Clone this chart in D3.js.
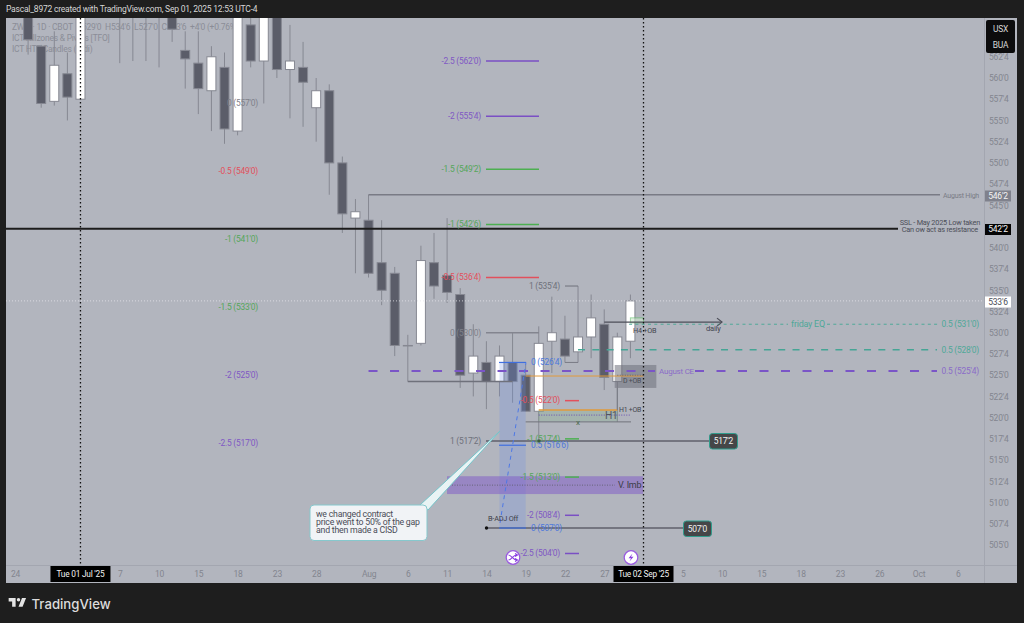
<!DOCTYPE html>
<html><head><meta charset="utf-8">
<script src="https://cdnjs.cloudflare.com/ajax/libs/d3/7.8.5/d3.min.js"></script>
<style>html,body{margin:0;padding:0;background:#1e1e1e;overflow:hidden}svg{display:block}text{font-family:Roboto,"Noto Sans",sans-serif}</style>
</head><body><svg id="c" width="1024" height="623"></svg>
<script>
// ---- candle data (bar index 1 = 25 Jun 2025)
const firstBar = 1;
const open  = [569,563.75,557.25,560.5,557.5,572,574,572,570,568.5,570,569,563.25,561.75,558.5,561.25,553.75,566.25,562,568,561,561.25,556.5,558.5,550,543.5,543.25,538.25,537,528.5,528.75,538.25,536.75,534.5,525.25,526.5,524.25,526.5,525,520.75,529,529.25,527.75,529.5,531,524.25,529];
const high  = [571,563.9,565.5,563,572,575,576,576,574,572,572,572,565.5,565.5,563.75,563,572,570,571,571,566.25,564.25,560,559.25,550.75,545.75,546.25,543.25,537.75,529.75,540.25,541.75,543.5,535.25,531,529,528.5,530,526.25,530.75,534.25,532,535.5,534.5,532.75,530,534.5];
const low   = [562.75,556.5,556.75,555,557.5,568,569,561.75,562,562,561.25,564.25,558.75,555.75,553.75,552.25,553.25,561.25,557,560,555.25,554.25,552.5,546.25,541.75,537,536.5,533.25,527.25,524.25,528.5,534,533.5,523.5,522.5,521,522.5,521.75,520.75,517.25,525.25,526.5,526.5,527,523.25,519.5,527];
const close = [564.5,557,561.5,557.75,570,574,572,570,568.5,570,568,565.75,562.25,558.75,562.5,554,570,562,568,561,562,559.5,558.5,550,544,544.25,537,535,528.5,528.5,538.5,535.5,534.75,525,527.25,524.25,527.25,524.25,520.75,528.75,530,527.25,529.5,531.75,524.75,529.5,533.75];
// ---- axis labels
const priceTicks = [562.5,560,557.5,555,552.5,550,547.5,545,540,537.5,535,532.5,530,527.5,525,522.5,520,517.5,515,512.5,510,507.5,505];
const timeTickBars = [0,8,11,14,17,20,23,27,30,33,36,39,42,45,51,54,57,60,63,66,69,72];
const timeTickLabels = ["24","7","10","15","18","23","28","Aug","6","11","14","19","22","27","5","10","15","18","23","26","Oct","6"];
const crosshairBars = [5,48];
const crosshairLabels = ["Tue 01 Jul '25","Tue 02 Sep '25"];
// ---- fib level groups
const fibLeftLabels = ["0 (557'0)","-0.5 (549'0)","-1 (541'0)","-1.5 (533'0)","-2 (525'0)","-2.5 (517'0)"];
const fibLeftPrices = [557,549,541,533,525,517];
const fibLeftKinds  = ["g","r","n","n","p","p"];
const fibMidLabels = ["-2.5 (562'0)","-2 (555'4)","-1.5 (549'2)","-1 (542'6)","-0.5 (536'4)","0 (530'0)"];
const fibMidPrices = [562,555.5,549.25,542.75,536.5,530];
const fibMidKinds  = ["p","p","n","n","r","g"];
const fibLowLabels = ["-0.5 (522'0)","-1 (517'4)","-1.5 (513'0)","-2 (508'4)","-2.5 (504'0)"];
const fibLowPrices = [522,517.5,513,508.5,504];
const fibLowKinds  = ["r","n","n","p","p"];
const blueLabels = ["0 (526'4)","0.5 (516'6)","0 (507'0)"];
const bluePrices = [526.5,516.75,507];
const callout = ["we changed contract","price went to 50% of the gap","and then made a CISD"];

const x = d3.scaleLinear().domain([0,48]).range([15,643.5]);
const y = d3.scaleLinear().domain([505,560]).range([545,78]);
const svg = d3.select("#c");
const kinds = {r:"#e2505c",n:"#4caf50",p:"#7a4fc4",g:"#83858f"};
const txtKinds = {r:"#e2505c",n:"#55a65a",p:"#8058c4",g:"#7f818b"};
const DARK="#5b5d69", EDGE="#868892";

svg.append("rect").attr("width",1024).attr("height",623).attr("fill","#1e1e1e");
svg.append("rect").attr("x",6).attr("y",18).attr("width",1011).attr("height",565).attr("fill","#b2b5be");
svg.append("text").attr("x",6).attr("y",12).attr("fill","#d6d6d6").attr("font-size",7.9).text("Pascal_8972 created with TradingView.com, Sep 01, 2025 12:53 UTC-4");

svg.append("defs").append("clipPath").attr("id","plot").append("rect").attr("x",6).attr("y",18).attr("width",978).attr("height",547);
const plot = svg.append("g").attr("clip-path","url(#plot)");

// legend (beneath the candles)
[["ZW1! · 1D · CBOT  O529'0  H534'6  L527'0  C533'6  +4'0 (+0.76%)",27],["ICT Killzones & Pivots [TFO]",38],["ICT HTF Candles (fadi)",49]].forEach(d=>{
  plot.append("text").attr("x",12).attr("y",d[1]+3).attr("font-size",7.85).style("white-space","pre").attr("fill","#8b8d97").text(d[0]);
});

// candles
const bars = d3.range(open.length).map(i=>({i:i+firstBar,o:open[i],h:high[i],l:low[i],c:close[i]}));
plot.selectAll("line.w").data(bars).join("line").attr("class","w")
  .attr("x1",d=>x(d.i)).attr("x2",d=>x(d.i)).attr("y1",d=>y(d.h)).attr("y2",d=>y(d.l))
  .attr("stroke",EDGE).attr("stroke-width",1);
plot.selectAll("rect.b").data(bars).join("rect").attr("class","b")
  .attr("x",d=>x(d.i)-4.5).attr("width",9)
  .attr("y",d=>y(Math.max(d.o,d.c))).attr("height",d=>Math.max(0.5,Math.abs(y(d.o)-y(d.c))))
  .attr("fill",d=>d.c>d.o?"#ffffff":DARK).attr("stroke",EDGE).attr("stroke-width",1);

// helpers
const hline=(g,x0,x1,p,col,w,dash)=>g.append("line").attr("x1",x0).attr("x2",x1).attr("y1",y(p)).attr("y2",y(p)).attr("stroke",col).attr("stroke-width",w).attr("stroke-dasharray",dash||null);
const label=(g,xx,p,t,col,size,anchor,extra)=>g.append("text").attr("x",xx).attr("y",y(p)+(extra||0)+2.8).attr("fill",col).attr("font-size",size).attr("text-anchor",anchor||"end").text(t);

// zones
const a = plot.append("g");
a.append("rect").attr("x",x(37)).attr("width",x(39)-x(37)).attr("y",y(526.5)).attr("height",y(507)-y(526.5)).attr("fill","#6a8ee6").attr("opacity",.25);
a.append("rect").attr("x",447).attr("width",196).attr("y",y(513.1)).attr("height",y(511)-y(513.1)).attr("fill","#7d58c8").attr("opacity",.5);
a.append("rect").attr("x",x(45.8)).attr("width",x(48.98)-x(45.8)).attr("y",y(526.2)).attr("height",y(523.5)-y(526.2)).attr("fill","#6d6f7a").attr("opacity",.55);
a.append("rect").attr("x",x(40)).attr("width",x(46)-x(40)).attr("y",y(520.9)).attr("height",y(519.6)-y(520.9)).attr("fill","#66b36a").attr("opacity",.18).attr("stroke","#5fae64").attr("stroke-width",.7);
a.append("rect").attr("x",x(47)).attr("width",x(48)-x(47)).attr("y",y(531.75)).attr("height",5).attr("fill","#cfe8cf").attr("opacity",.6).attr("stroke","#5fbf68").attr("stroke-width",1);

// long horizontal levels
hline(a,x(27),940,546.25,"#797b85",1.5);
hline(a,6,898,542.25,"#1c1c1c",2);
hline(a,6,984,533.75,"#e4e5ea",.8,"1,2");
hline(a,x(46.9),788,531,"#4fa898",1,"3,3.3");
hline(a,827,940,531,"#4fa898",1,"3,3.3");
hline(a,x(43),937,528,"#45a595",1.5,"7,7.3");
hline(a,x(27),655,525.5,"#7a55c7",2,"9,12.5");
hline(a,695,937,525.5,"#7a55c7",2,"9,12.5");
hline(a,486,709,517.25,"#5f616b",1.5);
hline(a,486,683,507,"#5f616b",1.5);
hline(a,x(30),x(38),524.25,"#6f717b",1.5);
hline(a,x(39),x(48),524.9,"#e39a3a",1);
hline(a,x(46),x(48),525,"#5a5c66",.8,"1,1.5");
hline(a,x(40),x(46),520.9,"#e39a3a",1.5);
hline(a,x(39),631,519.5,"#70727c",1);
hline(a,x(40),630,520.3,"#6a4fb0",1,"1,1.5");
hline(a,447,615,512.05,"#5a5c66",.8,"1,1.5");
a.append("line").attr("x1",x(46)).attr("x2",x(46)).attr("y1",y(523.5)).attr("y2",y(520.9)).attr("stroke","#797b85");
a.append("line").attr("x1",x(45)).attr("x2",722).attr("y1",y(531.25)).attr("y2",y(531.25)).attr("stroke","#4d4f59").attr("stroke-width",1.2);
a.append("path").attr("d",`M717 ${y(531.25)-4}L722 ${y(531.25)}L717 ${y(531.25)+4}`).attr("fill","none").attr("stroke","#4d4f59").attr("stroke-width",1.2);
hline(a,x(42),x(43),526.5,"#797b85",1);
hline(a,565,x(43),535.5,"#6f717b",1);

// fib columns
fibLeftLabels.forEach((t,i)=>label(a,258,fibLeftPrices[i],t,txtKinds[fibLeftKinds[i]],7.8));
fibMidLabels.forEach((t,i)=>{label(a,481,fibMidPrices[i],t,txtKinds[fibMidKinds[i]],7.8);hline(a,486,539,fibMidPrices[i],kinds[fibMidKinds[i]],1.6);});
fibLowLabels.forEach((t,i)=>{label(a,560,fibLowPrices[i],t,txtKinds[fibLowKinds[i]],7.8);hline(a,565,579,fibLowPrices[i],kinds[fibLowKinds[i]],1.5);});
bluePrices.forEach((p,i)=>{label(a,531,p,blueLabels[i],"#4d78dc",7.8,"start");hline(a,499,526,p,"#3f6fe0",1.2);});
label(a,560,535.5,"1 (535'4)","#6f717b",7.8);
label(a,481,517.25,"1 (517'2)","#6f717b",7.8);

// blue dashed
a.append("line").attr("x1",500).attr("y1",y(507.6)).attr("x2",526).attr("y2",y(526.5)).attr("stroke","#4d78e6").attr("stroke-width",1).attr("stroke-dasharray","4,4");

// small labels
label(a,488,508,"B-ADJ Off","#3c3e48",6.8,"start",-1);
a.append("circle").attr("cx",486.5).attr("cy",y(507)).attr("r",1.7).attr("fill","#111");
a.append("rect").attr("x",537.5).attr("y",y(517.25)-1.5).attr("width",3).attr("height",3).attr("fill","#3d5e3d");
label(a,618,512.05,"V. Imb","#3a3c46",8.3,"start");
label(a,623,524.4,"D +OB","#4a4c56",6.4,"start");
label(a,633,530.2,"H4 +OB","#44464f",6.7,"start",-.5);
label(a,619,521,"H1 +OB","#44464f",6.4,"start");
label(a,605,520.2,"H1","#53555f",9.5,"start",.5);
label(a,576,519.4,"x","#4a6a4a",7.5,"start",-.5);
label(a,706,530.5,"daily","#44464f",7,"start",-.5);
label(a,791,531,"friday EQ","#4fa898",8.3,"start");
label(a,979,531,"0.5 (531'0)","#4fa898",7.8);
label(a,979,528,"0.5 (528'0)","#4fa898",7.8);
label(a,979,525.5,"0.5 (525'4)","#8a6cc8",7.8);
label(a,659,525.5,"August CE","#8a6cc8",7.4,"start");
label(a,979,546.25,"August High","#7a7c86",6.5);
label(a,980,542.25,"SSL - May 2025 Low taken","#4c4e58",6.8,"end",-6.6);
label(a,978,542.25,"Can ow act as resistance","#4c4e58",6.8,"end",0.3);

// crosshair-like verticals
crosshairBars.forEach(b=>a.append("line").attr("x1",x(b)).attr("x2",x(b)).attr("y1",18).attr("y2",565).attr("stroke","#111").attr("stroke-width",1.3).attr("stroke-dasharray","1.5,2.5"));

// callout
const co = plot.append("g");
co.append("path").attr("d","M420 505L500 431L428 510Z").attr("fill","#e8f3f4").attr("stroke","#74c3c9").attr("stroke-width",1);
co.append("rect").attr("x",310).attr("y",505).attr("width",117).attr("height",35.5).attr("rx",4).attr("fill","#f1f3f6").attr("stroke","#86c8cd").attr("stroke-width",1);
co.selectAll("text").data(callout).join("text").attr("x",316).attr("y",(d,i)=>517+i*8).attr("font-size",8.1).attr("fill","#4a4c56").text(d=>d);

// icons
[513,631].forEach((cx,k)=>{
  const g=plot.append("g").attr("transform",`translate(${cx},557.5)`);
  g.append("circle").attr("r",6.8).attr("fill","#fff").attr("stroke","#9a5ae0").attr("stroke-width",1.3);
  if(k===0) g.append("path").attr("d","M-4.5 -2.5C-1.5 -2.5 0 2.5 3.5 2.5M-4.5 2.5C-1.5 2.5 0 -2.5 3.5 -2.5M2 -4L4.5 -2.5L2 -1M2 1L4.5 2.5L2 4").attr("fill","none").attr("stroke","#8a3fe0").attr("stroke-width",1.1);
  else g.append("path").attr("d","M1.5 -4L-2.5 .8H0L-1.5 4L2.5 -.8H0Z").attr("fill","#8a3fe0");
});

// badges
const badge=(bx,by,w,h,t,fill,stroke,col,size,r)=>{
  svg.append("rect").attr("x",bx).attr("y",by).attr("width",w).attr("height",h).attr("rx",r||0).attr("fill",fill).attr("stroke",stroke||"none");
  svg.append("text").attr("x",bx+w/2).attr("y",by+h/2+2.9).attr("text-anchor","middle").attr("font-size",size||9).attr("fill",col).text(t);
};
badge(709.5,433.5,28,15.5,"517'2","#454648","#2f9c8c","#f2f2f2",7.8,3);
badge(683.5,521,28,15.5,"507'0","#454648","#2f9c8c","#f2f2f2",7.8,3);

// axes
svg.append("line").attr("x1",984.5).attr("x2",984.5).attr("y1",18).attr("y2",583).attr("stroke","#a3a6b0");
svg.append("line").attr("x1",6).attr("x2",1017).attr("y1",565.5).attr("y2",565.5).attr("stroke","#a3a6b0");
const fmt = v=>{const w=Math.floor(v);return w+"'"+Math.round((v-w)*8);};
const yAxis = d3.axisRight(y).tickValues(priceTicks).tickFormat(fmt).tickSize(0).tickPadding(4);
svg.append("g").attr("transform","translate(985,0)").call(yAxis).call(g=>g.select(".domain").remove())
  .selectAll("text").attr("fill","#83858f").attr("font-size",7.9).style("font-family","Roboto");
const xAxis = d3.axisBottom(x).tickValues(timeTickBars).tickFormat((d,i)=>timeTickLabels[i]).tickSize(0).tickPadding(5);
svg.append("g").attr("transform","translate(0,566)").call(xAxis).call(g=>g.select(".domain").remove())
  .selectAll("text").attr("fill","#83858f").attr("font-size",7.9).style("font-family","Roboto");

badge(985,190.5,26,11,"546'2","#7f818c",null,"#f4f4f4",7.9);
badge(985,224,26,11,"542'2","#050505",null,"#f4f4f4",7.9);
badge(985,296.5,26,11,"533'6","#ffffff",null,"#4a4c56",7.9);
crosshairBars.forEach((b,i)=>badge(x(b)-30,566,60,16,crosshairLabels[i],"#000",null,"#f2f2f2",7.7));

// symbol badge
svg.append("rect").attr("x",986).attr("y",20).attr("width",29).attr("height",33).attr("rx",2).attr("fill","#0c0c0d");
svg.append("text").attr("x",1000.5).attr("y",31.5).attr("text-anchor","middle").attr("font-size",7.8).attr("fill","#d8d8d8").text("USX");
svg.append("text").attr("x",1000.5).attr("y",48).attr("text-anchor","middle").attr("font-size",7.8).attr("fill","#d8d8d8").text("BUA");

// slightly taller, tighter glyphs, as in the reference's downscaled text
svg.selectAll("text").each(function(){
  const t=d3.select(this), s=+t.attr("font-size");
  if(s) t.attr("font-size",s*1.08).style("letter-spacing","-0.22px");
});

// footer logo
svg.append("path").attr("transform","translate(7.5,594.5) scale(.58)").attr("fill","#e4e4e4").attr("d","M14 6H2v6h6v9h6V6zm12 15h-7l6-15h7l-6 15zm-7-9a3 3 0 1 0 0-6 3 3 0 0 0 0 6z");
svg.append("text").attr("x",31.5).attr("y",608.5).attr("font-size",13.2).attr("font-weight",500).attr("fill","#dcdcdc").style("font-family","Inter").text("TradingView");
</script></body></html>
